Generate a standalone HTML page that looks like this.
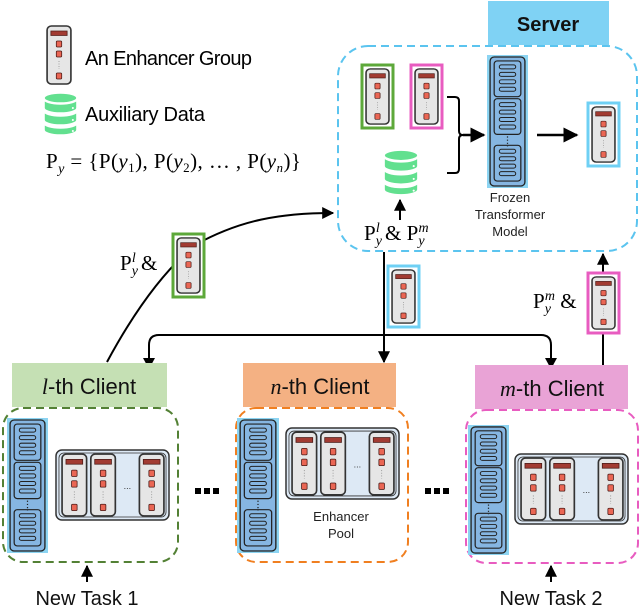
<!DOCTYPE html>
<html><head><meta charset="utf-8"><style>
html,body{margin:0;padding:0;background:#fff;}
svg{display:block;}
text{font-family:"Liberation Sans","DejaVu Sans",sans-serif;}
.serif{font-family:"Liberation Serif","DejaVu Serif",serif;}
</style></head><body>
<svg width="640" height="606" viewBox="0 0 640 606" xmlns="http://www.w3.org/2000/svg">
<defs>
<symbol id="enh" viewBox="0 0 24 60" preserveAspectRatio="none">
 <rect x="1" y="1" width="22" height="58" rx="4" fill="#e6e6e6" stroke="#333" stroke-width="1.5"/>
 <rect x="4.5" y="6" width="15" height="4.5" fill="#a23b32" stroke="#4a1a16" stroke-width="0.7"/>
 <rect x="9.5" y="16" width="5" height="6" rx="1" fill="#ea6654" stroke="#4a1a16" stroke-width="0.7"/>
 <rect x="9.5" y="26" width="5" height="6" rx="1" fill="#ea6654" stroke="#4a1a16" stroke-width="0.7"/>
 <line x1="12" y1="36" x2="12" y2="44" stroke="#999" stroke-width="0.8" stroke-dasharray="1 1.5"/>
 <rect x="9.5" y="48" width="5" height="6" rx="1" fill="#ea6654" stroke="#4a1a16" stroke-width="0.7"/>
</symbol>
<symbol id="tf" viewBox="0 0 40 134" preserveAspectRatio="none">
 <rect x="0" y="0" width="40" height="134" fill="#8cd4f2"/>
 <rect x="3" y="2" width="34" height="130" rx="4" fill="#86b6e2" stroke="#222" stroke-width="1.3"/>
 <g id="blk">
  <rect x="7" y="6" width="26" height="36" rx="3" fill="#86b6e2" stroke="#222" stroke-width="1.2"/>
  <rect x="12" y="10" width="16" height="4" rx="2" fill="#86b6e2" stroke="#222" stroke-width="1"/>
  <rect x="12" y="17.5" width="16" height="4" rx="2" fill="#86b6e2" stroke="#222" stroke-width="1"/>
  <rect x="12" y="25" width="16" height="4" rx="2" fill="#86b6e2" stroke="#222" stroke-width="1"/>
  <rect x="12" y="32.5" width="16" height="4" rx="2" fill="#86b6e2" stroke="#222" stroke-width="1"/>
 </g>
 <use href="#blk" y="38"/>
 <use href="#blk" y="85"/>
 <line x1="20" y1="82" x2="20" y2="92" stroke="#222" stroke-width="1.2" stroke-dasharray="1.2 2"/>
</symbol>
<symbol id="pool" viewBox="0 0 116 72" preserveAspectRatio="none">
 <rect x="1" y="1" width="114" height="70" rx="6" fill="#dde9f5" stroke="#333" stroke-width="1.5"/>
 <rect x="4" y="4" width="108" height="64" rx="5" fill="none" stroke="#333" stroke-width="0.8"/>
 <use href="#enh" x="6" y="4" width="27" height="64"/>
 <use href="#enh" x="35" y="4" width="27" height="64"/>
 <use href="#enh" x="84" y="4" width="27" height="64"/>
 <text x="73" y="40" font-size="9" text-anchor="middle" fill="#333">...</text>
</symbol>
<symbol id="db" viewBox="0 0 34 44" preserveAspectRatio="none">
 <g fill="#62e08f" stroke="#fff" stroke-width="1.5">
  <path d="M1 31 v7 a16 5 0 0 0 32 0 v-7 a16 5 0 0 1 -32 0z"/>
  <path d="M1 19 v9 a16 5 0 0 0 32 0 v-9 a16 5 0 0 1 -32 0z"/>
  <path d="M1 7 v9 a16 5 0 0 0 32 0 v-9 a16 5 0 0 1 -32 0z"/>
  <ellipse cx="17" cy="6" rx="16" ry="5"/>
 </g>
 <circle cx="29" cy="16" r="1" fill="#fff"/><circle cx="29" cy="28" r="1" fill="#fff"/><circle cx="29" cy="39" r="1" fill="#fff"/>
</symbol>
<marker id="ar" viewBox="0 0 10 10" refX="9" refY="5" markerWidth="6" markerHeight="6" orient="auto"><path d="M0 0 L10 5 L0 10z" fill="#000"/></marker>
</defs>

<!-- legend -->
<use href="#enh" x="46" y="25" width="26" height="60"/>
<text x="85" y="65" font-size="20" textLength="167">An Enhancer Group</text>
<use href="#db" x="43" y="92" width="35" height="44"/>
<text x="85" y="121" font-size="20" textLength="120">Auxiliary Data</text>
<text class="serif" x="46" y="168" font-size="21" textLength="255">P<tspan font-style="italic" font-size="14" dy="5">y</tspan><tspan dy="-5"> = {P(</tspan><tspan font-style="italic">y</tspan><tspan font-size="13" dy="4">1</tspan><tspan dy="-4">), P(</tspan><tspan font-style="italic">y</tspan><tspan font-size="13" dy="4">2</tspan><tspan dy="-4">), … , P(</tspan><tspan font-style="italic">y</tspan><tspan font-size="13" dy="4" font-style="italic">n</tspan><tspan dy="-4">)}</tspan></text>

<!-- server -->
<rect x="488" y="1" width="121" height="44" fill="#7fd2f4"/>
<text x="548" y="31" font-size="20" font-weight="bold" text-anchor="middle" fill="#111">Server</text>
<rect x="338" y="46" width="299" height="205" rx="30" fill="none" stroke="#5bc4ef" stroke-width="2" stroke-dasharray="8 5"/>
<rect x="362" y="65" width="31" height="63" fill="#fff" stroke="#5da83a" stroke-width="3"/>
<use href="#enh" x="365" y="68" width="25" height="57"/>
<rect x="411" y="65" width="31" height="63" fill="#fff" stroke="#e85cc0" stroke-width="3"/>
<use href="#enh" x="414" y="68" width="25" height="57"/>
<use href="#db" x="383" y="149" width="36" height="47"/>
<path d="M447 97 h8 q4 0 4 4 v30 q0 4 4 4 q-4 0 -4 4 v30 q0 4 -4 4 h-8" fill="none" stroke="#000" stroke-width="2"/>
<line x1="463" y1="135" x2="484" y2="135" stroke="#000" stroke-width="2.5" marker-end="url(#ar)"/>
<use href="#tf" x="487" y="55" width="41" height="133"/>
<text x="510" y="202" font-size="13" text-anchor="middle" fill="#222">Frozen</text>
<text x="510" y="219" font-size="13" text-anchor="middle" fill="#222">Transformer</text>
<text x="510" y="236" font-size="13" text-anchor="middle" fill="#222">Model</text>
<line x1="537" y1="135" x2="577" y2="135" stroke="#000" stroke-width="2.5" marker-end="url(#ar)"/>
<rect x="588" y="103" width="31" height="63" fill="#fff" stroke="#6fd0f4" stroke-width="3"/>
<use href="#enh" x="591" y="106" width="25" height="57"/>
<line x1="400" y1="220" x2="400" y2="200" stroke="#000" stroke-width="2" marker-end="url(#ar)"/>
<text class="serif" x="364" y="240" font-size="21">P<tspan font-style="italic" font-size="14" dy="5">y</tspan><tspan font-style="italic" font-size="14" dx="-6" dy="-13">l</tspan><tspan dy="8"> &amp; P</tspan><tspan font-style="italic" font-size="14" dy="5">y</tspan><tspan font-style="italic" font-size="14" dx="-6" dy="-13">m</tspan></text>

<!-- left curve -->
<path d="M107 362 C135 310, 165 270, 195 245 C240 220, 280 213, 333 213" fill="none" stroke="#000" stroke-width="2" marker-end="url(#ar)"/>
<rect x="173" y="234" width="31" height="63" fill="#fff" stroke="#5da83a" stroke-width="3"/>
<use href="#enh" x="176" y="237" width="25" height="57"/>
<text class="serif" x="120" y="270" font-size="21">P<tspan font-style="italic" font-size="14" dy="5">y</tspan><tspan font-style="italic" font-size="14" dx="-6" dy="-13">l</tspan><tspan dy="8"> &amp;</tspan></text>

<!-- center line -->
<line x1="384" y1="252" x2="384" y2="362" stroke="#000" stroke-width="2" marker-end="url(#ar)"/>
<rect x="388" y="266" width="31" height="61" fill="#fff" stroke="#6fd0f4" stroke-width="3"/>
<use href="#enh" x="391" y="269" width="25" height="55"/>
<path d="M149 364 V345 q0 -10 10 -10 H541 q10 0 10 10 V364" fill="none" stroke="#000" stroke-width="2"/>
<path d="M143 358 L149 369 L155 358z"/><path d="M545 358 L551 369 L557 358z"/>

<!-- right line -->
<line x1="603" y1="365" x2="603" y2="254" stroke="#000" stroke-width="2" marker-end="url(#ar)"/>
<rect x="588" y="273" width="31" height="60" fill="#fff" stroke="#e85cc0" stroke-width="3"/>
<use href="#enh" x="591" y="276" width="25" height="54"/>
<text class="serif" x="533" y="308" font-size="21">P<tspan font-style="italic" font-size="14" dy="5">y</tspan><tspan font-style="italic" font-size="14" dx="-6" dy="-13">m</tspan><tspan dy="8"> &amp;</tspan></text>

<!-- clients -->
<rect x="12" y="363" width="155" height="44" fill="#c5e0b4"/>
<text x="89" y="394" font-size="22" text-anchor="middle" fill="#111"><tspan class="serif" font-style="italic">l</tspan>-th Client</text>
<rect x="243" y="363" width="153" height="44" fill="#f4b183"/>
<text x="320" y="394" font-size="22" text-anchor="middle" fill="#111"><tspan class="serif" font-style="italic">n</tspan>-th Client</text>
<rect x="475" y="365" width="153" height="44" fill="#e9a3d6"/>
<text x="552" y="396" font-size="22" text-anchor="middle" fill="#111"><tspan class="serif" font-style="italic">m</tspan>-th Client</text>

<rect x="3" y="408" width="175" height="154" rx="20" fill="none" stroke="#538135" stroke-width="2" stroke-dasharray="8 5"/>
<rect x="236" y="408" width="172" height="154" rx="20" fill="none" stroke="#f07f20" stroke-width="2" stroke-dasharray="8 5"/>
<rect x="466" y="410" width="172" height="153" rx="20" fill="none" stroke="#e85cc0" stroke-width="2" stroke-dasharray="8 5"/>

<use href="#tf" x="7" y="418" width="41" height="135"/>
<use href="#tf" x="237" y="418" width="42" height="135"/>
<use href="#tf" x="468" y="425" width="41" height="130"/>
<use href="#pool" x="55" y="449" width="115" height="72"/>
<use href="#pool" x="285" y="427" width="115" height="73"/>
<use href="#pool" x="514" y="453" width="115" height="72"/>
<text x="341" y="521" font-size="13" text-anchor="middle" fill="#222">Enhancer</text>
<text x="341" y="538" font-size="13" text-anchor="middle" fill="#222">Pool</text>

<g fill="#000"><rect x="195" y="488" width="6" height="6"/><rect x="204" y="488" width="6" height="6"/><rect x="213" y="488" width="6" height="6"/>
<rect x="425" y="488" width="6" height="6"/><rect x="434" y="488" width="6" height="6"/><rect x="443" y="488" width="6" height="6"/></g>

<line x1="87" y1="582" x2="87" y2="566" stroke="#000" stroke-width="2" marker-end="url(#ar)"/>
<line x1="551" y1="582" x2="551" y2="566" stroke="#000" stroke-width="2" marker-end="url(#ar)"/>
<text x="87" y="605" font-size="20" text-anchor="middle" fill="#111">New Task 1</text>
<text x="551" y="605" font-size="20" text-anchor="middle" fill="#111">New Task 2</text>
</svg>
</body></html>
